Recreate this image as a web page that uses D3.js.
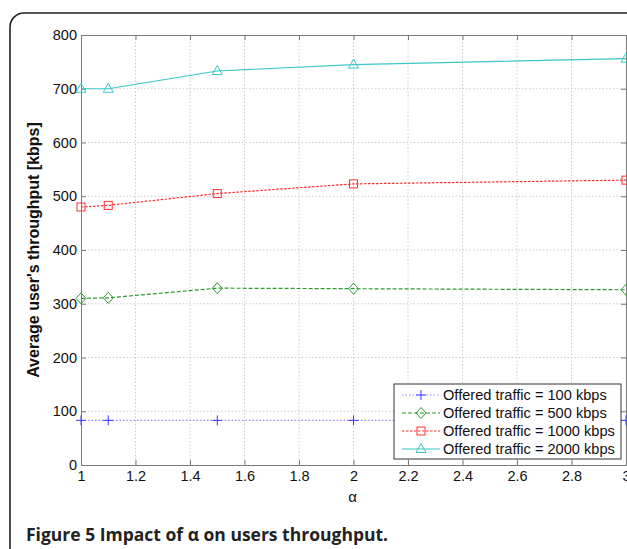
<!DOCTYPE html>
<html>
<head>
<meta charset="utf-8">
<script src="https://cdn.jsdelivr.net/npm/d3@7/dist/d3.min.js"></script>
<style>
body { margin: 0; background: #fff; }
svg { display: block; font-family: "Liberation Sans", Arial, sans-serif; }
</style>
</head>
<body>
<svg id="chart" width="627" height="549"></svg>
<script>
// alpha values and average throughput per offered traffic level
var alphas = [1, 1.1, 1.5, 2, 3];
var traffic100 = [83, 83, 83, 83, 83];
var traffic500 = [310, 311, 329, 328, 326];
var traffic1000 = [480, 483, 505, 523, 530];
var traffic2000 = [700, 700, 733, 745, 756];
var seriesNames = ["Offered traffic = 100 kbps", "Offered traffic = 500 kbps", "Offered traffic = 1000 kbps", "Offered traffic = 2000 kbps"];
var xTicks = [1, 1.2, 1.4, 1.6, 1.8, 2, 2.2, 2.4, 2.6, 2.8, 3];
var yTicks = [0, 100, 200, 300, 400, 500, 600, 700, 800];

var svg = d3.select("#chart");
// plot area edges (window.top is reserved, so prefixed names)
var pLeft = 81, pRight = 626, pTop = 35, pBottom = 465;

// outer rounded frame of the figure
svg.append("rect").attr("x", 10).attr("y", 13).attr("width", 640).attr("height", 560)
	.attr("rx", 14).attr("fill", "none").attr("stroke", "#222").attr("stroke-width", 1.6);

var x = d3.scaleLinear().domain([1, 3]).range([pLeft, pRight]);
var y = d3.scaleLinear().domain([0, 800]).range([pBottom, pTop]);

// dotted grid first so the lines sit above it
var grid = svg.append("g").attr("stroke", "#cccccc").attr("stroke-dasharray", "1.5,2");
grid.selectAll("line.v").data(xTicks.slice(1, -1)).enter().append("line")
	.attr("x1", function(d) {return x(d);}).attr("x2", function(d) {return x(d);}).attr("y1", pTop).attr("y2", pBottom);
grid.selectAll("line.h").data(yTicks.slice(1, -1)).enter().append("line")
	.attr("y1", function(d) {return y(d);}).attr("y2", function(d) {return y(d);}).attr("x1", pLeft).attr("x2", pRight);

// axes: bottom/left with labels, top/right with ticks only
var xb = svg.append("g").attr("transform", "translate(0," + pBottom + ")")
	.call(d3.axisBottom(x).tickValues(xTicks).tickSize(-5).tickSizeOuter(0).tickPadding(7).tickFormat(d3.format("")));
var yl = svg.append("g").attr("transform", "translate(" + pLeft + ",0)")
	.call(d3.axisLeft(y).tickValues(yTicks).tickSize(-5).tickSizeOuter(0).tickPadding(4));
svg.append("g").attr("transform", "translate(0," + pTop + ")")
	.call(d3.axisTop(x).tickValues(xTicks).tickSize(-5).tickSizeOuter(0).tickFormat(""));
svg.append("g").attr("transform", "translate(" + pRight + ",0)")
	.call(d3.axisRight(y).tickValues(yTicks).tickSize(-5).tickSizeOuter(0).tickFormat(""));
svg.selectAll(".domain").attr("stroke", "#7a7a7a");
svg.selectAll(".tick line").attr("stroke", "#7a7a7a");
svg.selectAll(".tick text").attr("font-size", 14.5).attr("fill", "#111").attr("font-family", "Liberation Sans, Arial, sans-serif");
xb.selectAll(".tick text").attr("dy", "0.6em");

// axis titles
svg.append("text").attr("transform", "translate(39," + 250 + ") rotate(-90)")
	.attr("text-anchor", "middle").attr("font-size", 16).attr("font-weight", "bold").attr("fill", "#111")
	.text("Average user's throughput [kbps]");
svg.append("text").attr("x", (pLeft + pRight) / 2 - 1).attr("y", 502).attr("text-anchor", "middle")
	.attr("font-size", 15).attr("fill", "#111").text("α");

// series lines and markers
var series = [
	{vals: traffic100, color: "#3b3bff", lineColor: "#8c8cff", dash: "1.5,2", marker: "plus"},
	{vals: traffic500, color: "#2e9a2e", lineColor: "#2e9a2e", dash: "4,2", marker: "diamond"},
	{vals: traffic1000, color: "#ff3030", lineColor: "#ff3030", dash: "2.5,1.5", marker: "square"},
	{vals: traffic2000, color: "#3cc6c6", lineColor: "#3cc6c6", dash: null, marker: "triangle"}
];
var line = d3.line().x(function(d) {return x(d[0]);}).y(function(d) {return y(d[1]);});

function drawMarker(g, type, color) {
	if(type === "plus") {
		g.append("path").attr("d", "M-5,0H5M0,-5V5").attr("stroke", color).attr("stroke-width", 1);
	} else if(type === "diamond") {
		g.append("path").attr("d", "M0,-5.5L5,0L0,5.5L-5,0Z").attr("fill", "none").attr("stroke", color);
	} else if(type === "square") {
		g.append("rect").attr("x", -4).attr("y", -4).attr("width", 8).attr("height", 8).attr("fill", "none").attr("stroke", color);
	} else {
		g.append("path").attr("d", "M0,-5.5L5,3.5L-5,3.5Z").attr("fill", "none").attr("stroke", color);
	}
}

series.forEach(function(s) {
	var pts = alphas.map(function(a, i) {return [a, s.vals[i]];});
	svg.append("path").datum(pts).attr("d", line).attr("fill", "none").attr("stroke", s.lineColor)
		.attr("stroke-width", 1.2).attr("stroke-dasharray", s.dash);
	pts.forEach(function(p) {
		var g = svg.append("g").attr("transform", "translate(" + x(p[0]) + "," + y(p[1]) + ")");
		drawMarker(g, s.marker, s.color);
	});
});

// legend box in the lower right corner
var legend = svg.append("g").attr("transform", "translate(394,384)");
legend.append("rect").attr("width", 227).attr("height", 75).attr("fill", "#fff").attr("stroke", "#333");
series.forEach(function(s, i) {
	var ly = 11 + i * 18;
	legend.append("line").attr("x1", 8).attr("x2", 46).attr("y1", ly).attr("y2", ly)
		.attr("stroke", s.lineColor).attr("stroke-width", 1.2).attr("stroke-dasharray", s.dash);
	drawMarker(legend.append("g").attr("transform", "translate(27," + ly + ")"), s.marker, s.color);
	legend.append("text").attr("x", 49).attr("y", ly).attr("dy", "0.36em").attr("font-size", 14.6)
		.attr("fill", "#111").text(seriesNames[i]);
});

// figure caption
svg.append("text").attr("x", 26).attr("y", 541).attr("font-family", "Open Sans, sans-serif")
	.attr("font-size", 17.5).attr("font-weight", "bold").attr("fill", "#222")
	.text("Figure 5 Impact of α on users throughput.");
</script>
</body>
</html>
